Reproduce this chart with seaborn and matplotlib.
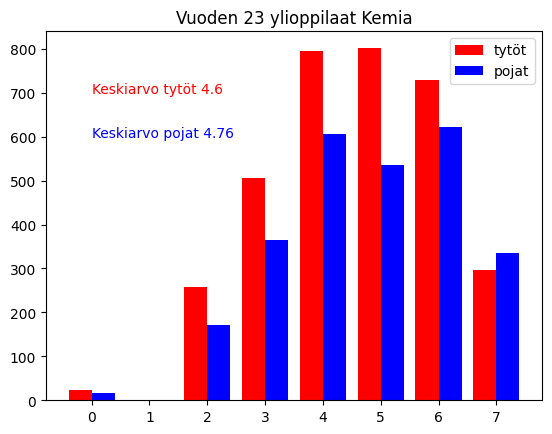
import matplotlib
matplotlib.use("Agg")
import matplotlib.pyplot as plt
import seaborn as sns
import pandas as pd

grades = [0, 1, 2, 3, 4, 5, 6, 7]
tytot = [23, 0, 257, 505, 796, 801, 728, 296]
pojat = [16, 0, 171, 364, 605, 535, 623, 335]
series_names = ["tytöt", "pojat"]
colors = ["red", "blue"]
title = "Vuoden 23 ylioppilaat Kemia"
note_t = "Keskiarvo tytöt 4.6"
note_p = "Keskiarvo pojat 4.76"

df = pd.DataFrame({
    "grade": grades * 2,
    "count": tytot + pojat,
    "group": [series_names[0]] * len(grades) + [series_names[1]] * len(grades),
})

fig = plt.figure(figsize=(5.52, 4.35), dpi=100)
ax = fig.add_axes([46 / 552, (435 - 401.3) / 435, 496 / 552, 369.3 / 435])
sns.barplot(data=df, x="grade", y="count", hue="group", palette=colors,
            saturation=1, width=0.8, ax=ax, errorbar=None)
ax.set_xlabel("")
ax.set_ylabel("")
ax.set_title(title)
ax.set_xlim(-0.79, 7.79)
ax.set_ylim(0, 840.5)
ax.text(0, 700, note_t, color="red")
ax.text(0, 600, note_p, color="blue")
ax.legend(loc="upper right")
fig.savefig("out.png", dpi=100)
